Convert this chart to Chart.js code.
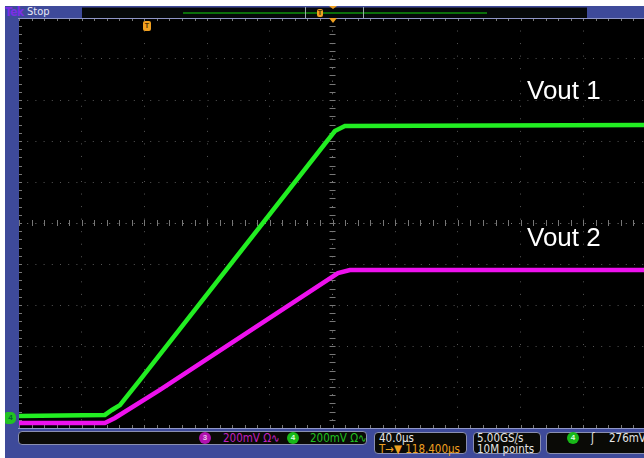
<!DOCTYPE html>
<html>
<head>
<meta charset="utf-8">
<script src="https://cdn.jsdelivr.net/npm/chart.js@4/dist/chart.umd.min.js"></script>
<style>
  html, body { margin: 0; padding: 0; background: #fff; }
  body { width: 644px; height: 458px; position: relative; overflow: hidden;
         font-family: "DejaVu Sans Condensed", "Liberation Sans Narrow", sans-serif; }
  .abs { position: absolute; }
  #frame { left: 5px; top: 6px; width: 645px; height: 452px; background: #3e4a9a; }
  #plot { left: 19px; top: 18px; width: 625px; height: 410px; background: #000; }
  #plot canvas { display: block; }
  .edge { left: 18px; width: 630px; height: 1px; background: #8f96c8; }
  .tek { left: 5px; top: 5px; font: bold 12px "DejaVu Sans Condensed", sans-serif; color: #7b2ee6; letter-spacing: -0.5px; }
  .stop { left: 27px; top: 5px; font: 11px "DejaVu Sans Condensed", sans-serif; color: #e8e8f4; }
  #rec { left: 82px; top: 7px; width: 505px; height: 10px; background: #05080a; border-top: 1px solid #2a2f55; }
  #recLine { left: 183px; top: 12px; width: 304px; height: 2px; background: #0b6e0b; }
  .brk { top: 7px; width: 1px; height: 11px; background: #9aa; }
  .orT { width: 6px; height: 8px; background: #f0a020; border-radius: 2px; color: #4a2a00;
         font: bold 7px sans-serif; text-align: center; line-height: 8px; }
  .tri { width: 0; height: 0; border-left: 4px solid transparent; border-right: 4px solid transparent;
         border-top: 5px solid #f0a020; }
  .box { background: #0a0a06; border: 1px solid #8a8fb0; border-radius: 4px; box-sizing: border-box; }
  .t { font-size: 11.5px; color: #e6e6e6; white-space: nowrap; line-height: 11px; }
  .ch { width: 12px; height: 12px; border-radius: 6px; font: bold 8px sans-serif; text-align: center;
        line-height: 12px; }
  .vout { font: 26px "Liberation Sans", Arial, sans-serif; color: #fff; white-space: nowrap; }
</style>
</head>
<body>
<div id="frame" class="abs"></div>
<div class="abs tek">Tek</div>
<div class="abs stop">Stop</div>
<div id="rec" class="abs"></div>
<div id="recLine" class="abs"></div>
<div class="abs brk" style="left:305px"></div>
<div class="abs brk" style="left:363px"></div>
<div class="abs orT" style="left:317px; top:9px">T</div>
<div class="abs tri" style="left:329px; top:6px; border-top-width:3px"></div>

<div id="plot" class="abs"><canvas id="scope"></canvas></div>
<div class="abs edge" style="top:18px"></div>
<div class="abs edge" style="top:428px"></div>
<div class="abs tri" style="left:329px; top:18px"></div>
<div class="abs orT" style="left:143px; top:21px; width:8px; height:10px; line-height:10px">T</div>

<div class="abs" style="left:5px; top:412px; width:11px; height:12px; background:#22c322; border-radius:2px 5px 5px 2px; font:bold 8px sans-serif; color:#063; text-align:center; line-height:12px">4</div>

<div class="abs vout" style="left:527px; top:75px">Vout 1</div>
<div class="abs vout" style="left:527px; top:222px">Vout 2</div>

<div class="abs box" style="left:18px; top:431px; width:349px; height:14px"></div>
<div class="abs ch" style="left:199px; top:432px; background:#b012b0; color:#e8c0e8">3</div>
<div class="abs t" style="left:223px; top:433px; color:#c020c0">200mV Ω∿</div>
<div class="abs ch" style="left:287px; top:432px; background:#18b818; color:#dfd">4</div>
<div class="abs t" style="left:310px; top:433px; color:#20c020">200mV Ω∿</div>

<div class="abs box" style="left:374px; top:432px; width:93px; height:22px"></div>
<div class="abs t" style="left:379px; top:433px">40.0µs</div>
<div class="abs t" style="left:379px; top:444px; color:#f0a020">T→▼ 118.400µs</div>

<div class="abs box" style="left:473px; top:432px; width:68px; height:22px"></div>
<div class="abs t" style="left:477px; top:433px">5.00GS/s</div>
<div class="abs t" style="left:477px; top:444px">10M points</div>

<div class="abs box" style="left:546px; top:432px; width:110px; height:22px"></div>
<div class="abs ch" style="left:567px; top:432px; background:#18b818; color:#dfd">4</div>
<div class="abs t" style="left:591px; top:433px">ʃ</div>
<div class="abs t" style="left:609px; top:433px">276mV</div>

<script>
"use strict";

// Time axis: µs relative to trigger (40 µs/div, centre at 118.4 µs)
const greenTime   = [-81.6, -26.8, -22.3, -17.2, -4.5, 119.9, 126.3, 317.1];
const greenVolts  = [0.010, 0.015, 0.039, 0.063, 0.185, 1.400, 1.424, 1.429];
const magentaTime  = [-81.6, -26.8, -20.4, 8.3, 121.9, 129.5, 317.1];
const magentaVolts = [-0.024, -0.024, 0.000, 0.137, 0.707, 0.722, 0.722];

// Division lines (200 mV/div vertically, ground of ch4 near the bottom)
const timeTicks = [-41.6, -1.6, 38.4, 78.4, 118.4, 158.4, 198.4, 238.4, 278.4];
const voltTicks = [1.7512, 1.5512, 1.3512, 1.1512, 0.9512, 0.7512, 0.5512, 0.3512, 0.1512];

const toPoints = (xs, ys) => xs.map((x, i) => ({ x: x, y: ys[i] }));

// Centre lines a little brighter than the other division lines
const gridColour = ctx => (ctx.tick && (ctx.tick.value === 118.4 || ctx.tick.value === 0.9512))
    ? "#7a7a7a" : "#555555";

// Small Tek-style tick marks along the centre cross and the screen edges
const tekTicks = {
    id: "tekTicks",
    beforeDatasetsDraw(chart) {
        const { ctx, chartArea: a, scales: { x, y } } = chart;
        const cx = x.getPixelForValue(118.4);
        const cy = y.getPixelForValue(0.9512);
        const sx = (x.getPixelForValue(158.4) - cx) / 5;
        const sy = (y.getPixelForValue(0.7512) - cy) / 5;
        ctx.save();
        ctx.strokeStyle = "#777777";
        ctx.lineWidth = 1;
        ctx.beginPath();
        for (let k = -30; k <= 30; k++) {
            const px = Math.round(cx + k * sx) + 0.5;
            if (px < a.left || px > a.right) continue;
            ctx.moveTo(px, cy - 3); ctx.lineTo(px, cy + 3);
            ctx.moveTo(px, a.top); ctx.lineTo(px, a.top + 3);
            ctx.moveTo(px, a.bottom); ctx.lineTo(px, a.bottom - 3);
        }
        for (let k = -30; k <= 30; k++) {
            const py = Math.round(cy + k * sy) + 0.5;
            if (py < a.top || py > a.bottom) continue;
            ctx.moveTo(cx - 3, py); ctx.lineTo(cx + 3, py);
            ctx.moveTo(a.left, py); ctx.lineTo(a.left + 3, py);
        }
        ctx.stroke();
        ctx.restore();
    }
};

const scopeChart = new Chart(document.getElementById("scope"), {
    type: "line",
    data: {
        datasets: [
            {
                label: "Vout 1",
                data: toPoints(greenTime, greenVolts),
                borderColor: "#22ee22",
                borderWidth: 4.5,
                pointRadius: 0,
                tension: 0
            },
            {
                label: "Vout 2",
                data: toPoints(magentaTime, magentaVolts),
                borderColor: "#ee11ee",
                borderWidth: 4.5,
                pointRadius: 0,
                tension: 0
            }
        ]
    },
    options: {
        responsive: true,
        maintainAspectRatio: false,
        animation: false,
        layout: { padding: 0 },
        plugins: { legend: { display: false }, tooltip: { enabled: false } },
        scales: {
            x: {
                type: "linear",
                min: -81.6,
                max: 317.1,
                afterBuildTicks: axis => { axis.ticks = timeTicks.map(v => ({ value: v })); },
                ticks: { display: false },
                grid: { color: gridColour, lineWidth: 1, drawTicks: false },
                border: { display: false, dash: [1, 11.54] }
            },
            y: {
                type: "linear",
                min: -0.0488,
                max: 1.9512,
                afterBuildTicks: axis => { axis.ticks = voltTicks.map(v => ({ value: v })); },
                ticks: { display: false },
                grid: { color: gridColour, lineWidth: 1, drawTicks: false },
                border: { display: false, dash: [1, 7.2] }
            }
        }
    },
    plugins: [tekTicks]
});
</script>
</body>
</html>
